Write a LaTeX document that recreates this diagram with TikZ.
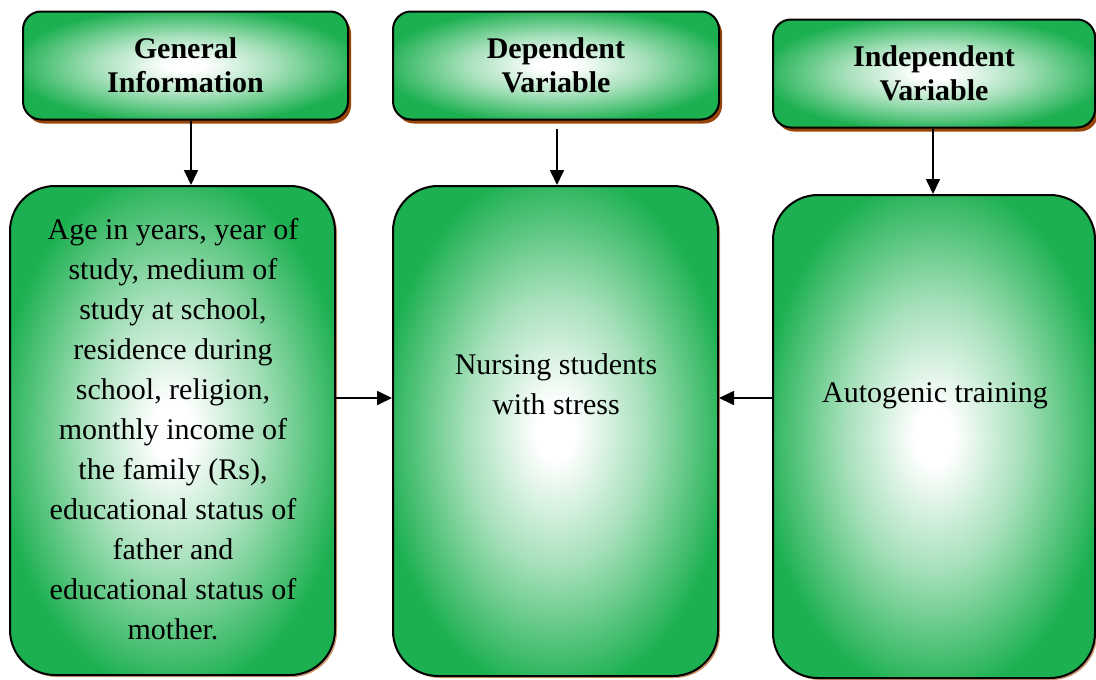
\documentclass[tikz,border=0pt]{standalone}
\usepackage{fontspec}
\setmainfont{Liberation Serif}
\usetikzlibrary{shadows,arrows.meta}
\definecolor{gr}{RGB}{28,176,80}
\definecolor{shbrown}{RGB}{150,70,10}
\definecolor{shtan}{RGB}{205,150,110}
\pgfdeclareradialshading{glow}{\pgfpoint{0bp}{0bp}}{color(0bp)=(white); color(3bp)=(white); color(14bp)=(gr!40!white); color(27bp)=(gr); color(50bp)=(gr)}
\begin{document}
\begin{tikzpicture}[x=1pt,y=-1pt,
  hdr/.style={draw=black, line width=2pt, rounded corners=18pt, shading=glow,
    drop shadow={shadow xshift=3pt, shadow yshift=-4pt, fill=shbrown, opacity=1},
    minimum height=108pt, inner sep=0pt, align=center,
    font=\fontsize{30}{34}\selectfont\bfseries},
  big/.style={draw=black, line width=2pt, rounded corners=45pt, shading=glow,
    drop shadow={shadow xshift=2pt, shadow yshift=-2pt, fill=shtan, opacity=1},
    inner sep=0pt},
  txt/.style={align=center, inner sep=0pt, font=\fontsize{30}{40}\selectfont},
  arr/.style={line width=1.7pt, -{Triangle[length=15pt,width=14pt]}}]
\useasboundingbox (0,0) rectangle (1096,680);
% headers
\node[hdr, minimum width=325pt] (h1) at (185.5,65.5) {General\\Information};
\node[hdr, minimum width=326pt] (h2) at (556,65.5) {Dependent\\Variable};
\node[hdr, minimum width=322pt] (h3) at (934,73.5) {Independent\\Variable};
% big boxes
\node[big, minimum width=325pt, minimum height=489pt] (b1) at (172.5,430.5) {};
\node[big, minimum width=325pt, minimum height=490pt] (b2) at (555.5,431) {};
\node[big, minimum width=322pt, minimum height=483pt] (b3) at (934,436.5) {};
% texts
\node[txt] (t1) at (173,429) {Age in years, year of\\study, medium of\\study at school,\\residence during\\school, religion,\\monthly income of\\the family (Rs),\\educational status of\\father and\\educational status of\\mother.};
\node[txt] (t2) at (556,384) {Nursing students\\with stress};
\node[txt] (t3) at (935,396) {Autogenic training};
% arrows
\coordinate (c1) at (191,0);
\coordinate (c2) at (557,0);
\coordinate (c3) at (933,0);
\coordinate (m) at (0,398);
\draw[arr] (h1.south -| c1) -- (b1.north -| c1);
\draw[arr] ([yshift=-8pt]h2.south -| c2) -- (b2.north -| c2);
\draw[arr] (h3.south -| c3) -- (b3.north -| c3);
\draw[arr] (b1.east |- m) -- (b2.west |- m);
\draw[arr] (b3.west |- m) -- (b2.east |- m);
\end{tikzpicture}
\end{document}
